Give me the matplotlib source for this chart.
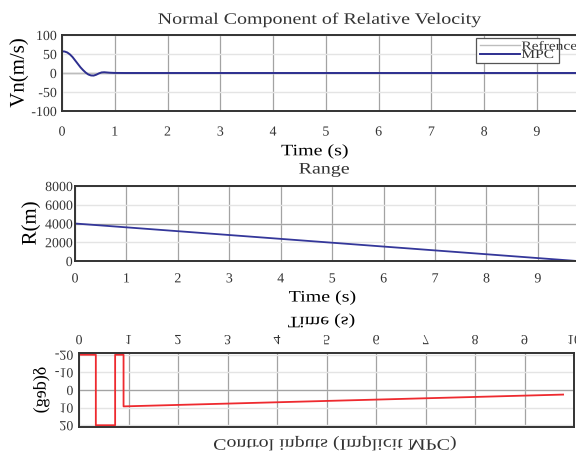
import matplotlib
matplotlib.use("Agg")
import matplotlib.pyplot as plt
from matplotlib.patheffects import AbstractPathEffect
from matplotlib.transforms import Affine2D

plt.rcParams['font.family'] = ['Liberation Serif', 'DejaVu Serif']
plt.rcParams['axes.unicode_minus'] = False
plt.rcParams['text.color'] = '#333333'

# ---------------- data ----------------
t_vn = [0, 0.05, 0.1, 0.15, 0.2, 0.25, 0.3, 0.35, 0.4, 0.45, 0.5, 0.55, 0.6,
        0.65, 0.7, 0.75, 0.8, 0.9, 1.0, 1.2, 9.76]
vn_mpc = [57, 56.5, 54, 49, 42, 33, 24, 15, 7.5, 1, -4, -6.5, -6.8,
          -4.5, -1, 1.5, 2, 0.8, 0.2, 0, 0]
t_ref = [0, 9.76]
vn_ref = [0, 0]

t_range = [0, 1, 2, 3, 4, 5, 6, 7, 8, 9, 9.76]
r_range = [4000, 3590, 3180, 2770, 2360, 1950, 1540, 1130, 720, 310, 0]

t_delta = [0, 0.34, 0.34, 0.73, 0.73, 0.9, 0.9, 9.78]
delta = [-20, -20, 20, 20, -20, -20, 9.3, 2.6]

T_END = 9.76
vn_yticks = [-100, -50, 0, 50, 100]
r_yticks = [0, 2000, 4000, 6000, 8000]
d_yticks = [-20, -10, 0, 10, 20]
xt9 = list(range(0, 10))
xt10 = list(range(0, 11))


# ------------- text warp (image is stretched / last panel mirrored) -------------
class Warp(AbstractPathEffect):
    def __init__(self, sx=1.0, sy=1.0, anchor='center'):
        super().__init__()
        self.sx, self.sy, self.anchor = sx, sy, anchor

    def draw_path(self, renderer, gc, tpath, affine, rgbFace=None):
        ext = tpath.transformed(affine).get_extents()
        if self.anchor == 'left':
            cx = ext.x0
        elif self.anchor == 'right':
            cx = ext.x1
        else:
            cx = 0.5 * (ext.x0 + ext.x1)
        cy = 0.5 * (ext.y0 + ext.y1)
        extra = Affine2D().translate(-cx, -cy).scale(self.sx, self.sy).translate(cx, cy)
        renderer.draw_path(gc, tpath, affine + extra, rgbFace)


W, H = 576, 456
fig = plt.figure(figsize=(W / 100, H / 100), dpi=100)


def rect(l, t, r, b):
    return [l / W, 1 - b / H, (r - l) / W, (b - t) / H]


ax1 = fig.add_axes(rect(62, 36, 577, 112))
ax2 = fig.add_axes(rect(75, 187, 577, 262))
ax3 = fig.add_axes(rect(79, 354, 574, 428))

DARK = '#a3a3a3'
LIGHT = '#e4e4e4'
TXT = '#333333'


def style(ax, xt, yt, ymid, ypad, xpad):
    ax.set_xticks(xt)
    ax.set_yticks(yt)
    ax.tick_params(length=0, labelsize=10, colors=TXT)
    ax.tick_params(axis='y', pad=ypad)
    ax.tick_params(axis='x', pad=xpad)
    ax.grid(axis='x', color=DARK, lw=0.9)
    ax.grid(axis='y', color=LIGHT, lw=1.0)
    ax.axhline(ymid, color=DARK, lw=0.9, zorder=1.6)
    for s in ax.spines.values():
        s.set_color('#333333')
        s.set_linewidth(1.4)


# panel 1
ax1.plot(t_ref, vn_ref, color='#bdbdbd', lw=1.0, label='Refrence')
ax1.plot(t_vn, vn_mpc, color='#2d2f8f', lw=1.4, label='MPC')
ax1.set_xlim(0, T_END)
ax1.set_ylim(-100, 100)
style(ax1, xt9, vn_yticks, 0, 3.8, 10.5)
ax1.set_title('Normal Component of Relative Velocity', fontsize=11.5, y=1.2, va='center', pad=0)
ax1.set_xlabel('Time (s)', fontsize=11.5, va='center')
ax1.xaxis.set_label_coords(0.491, -0.53)
ax1.set_ylabel('Vn(m/s)', fontsize=15, va='center', ha='center')
ax1.yaxis.set_label_coords(-0.0835, 0.5)

LEG_FS = 6.6
LEG_SY = 8.9 / LEG_FS
leg = ax1.legend(loc='upper left', bbox_to_anchor=((476 - 62) / 515, 1 - 3 / 76),
                 borderaxespad=0, fontsize=LEG_FS, labelspacing=0.0, borderpad=0.45,
                 handlelength=4.3, handletextpad=0.22, fancybox=False,
                 edgecolor='#555555', framealpha=1)
leg.get_frame().set_linewidth(0.9)

# panel 2
ax2.plot(t_range, r_range, color='#34379a', lw=1.3)
ax2.set_xlim(0, T_END)
ax2.set_ylim(0, 8000)
style(ax2, xt9, r_yticks, 4000, 1.7, 8.2)
ax2.set_title('Range', fontsize=11.5, x=0.496, y=1.22, va='center', pad=0)
ax2.set_xlabel('Time (s)', fontsize=11.5, va='center')
ax2.xaxis.set_label_coords(0.493, -0.487)
ax2.set_ylabel('R(m)', fontsize=15, va='center', ha='center')
ax2.yaxis.set_label_coords(-0.0876, 0.5)

# panel 3 (mirrored vertically in the reference)
ax3.plot(t_delta, delta, color='#ee2a2f', lw=1.3)
ax3.set_xlim(0, 10)
ax3.set_ylim(21, -21)
style(ax3, xt10, d_yticks, 0, 4.1, 4.2)
ax3.xaxis.tick_top()
ax3.tick_params(length=0)
ax3.xaxis.set_label_position('top')
ax3.set_xlabel('Time (s)', fontsize=11.5, va='center')
ax3.xaxis.set_label_coords(0.49, 1.439)
ax3.set_ylabel('δ(deg)', fontsize=13, va='center', ha='center')
ax3.yaxis.set_label_coords(-0.0768, 0.5)
ax3.set_title('Control inputs (Implicit MPC)', fontsize=11.5, x=0.517, y=-0.216,
              va='center', pad=0)

fig.canvas.draw()

STRETCH = 1.25


def warp_texts(ax, sy):
    ax.title.set_path_effects([Warp(STRETCH, sy, 'center')])
    ax.xaxis.label.set_path_effects([Warp(STRETCH, sy, 'center')])
    ax.yaxis.label.set_path_effects([Warp(1.0, sy, 'center')])
    for lab in ax.get_xticklabels():
        lab.set_path_effects([Warp(1.0, sy, 'center')])
    for lab in ax.get_yticklabels():
        lab.set_path_effects([Warp(1.0, sy, 'right')])


warp_texts(ax1, 1)
warp_texts(ax2, 1)
warp_texts(ax3, -1)
for txt in leg.get_texts():
    txt.set_path_effects([Warp(STRETCH * LEG_SY, LEG_SY, 'left')])

fig.savefig('out.png', dpi=100)
